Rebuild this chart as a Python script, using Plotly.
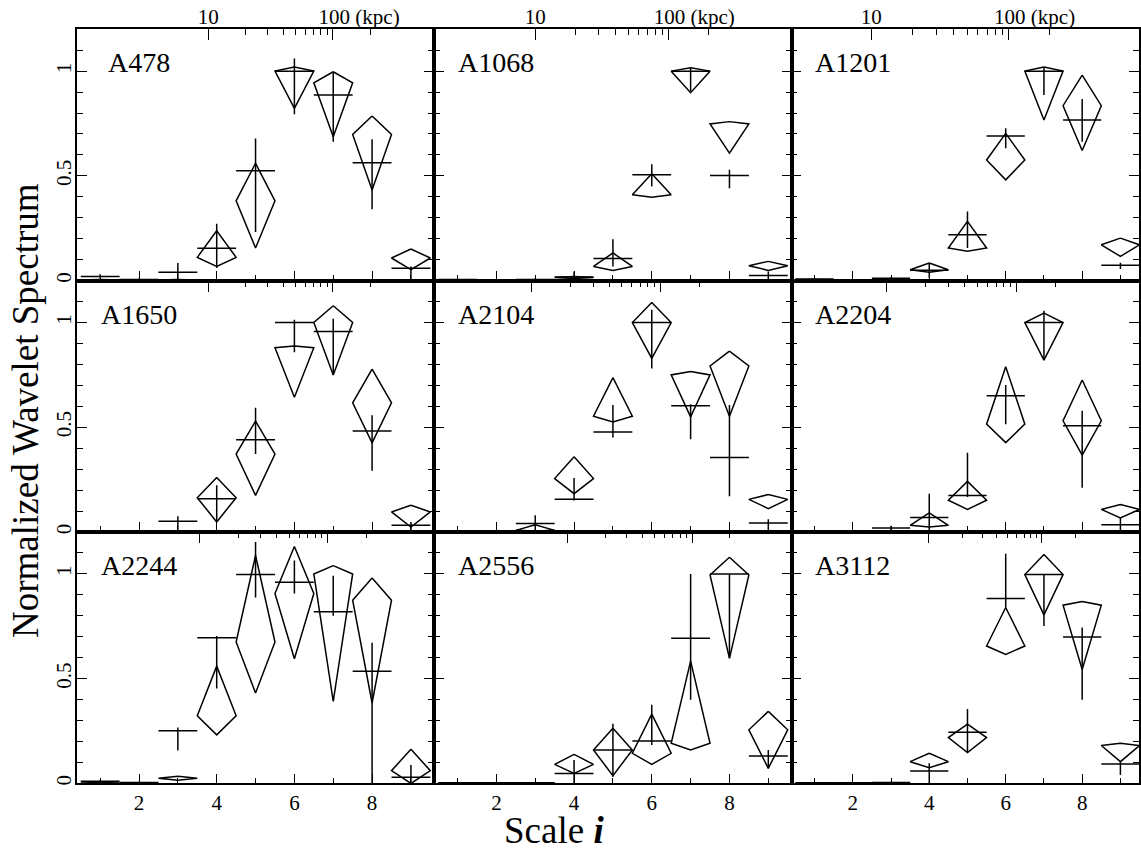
import plotly.graph_objects as go

# ---------------- data ----------------
scales = [1, 2, 3, 4, 5, 6, 7, 8, 9]
clusters = ["A478", "A1068", "A1201", "A1650", "A2104", "A2204", "A2244", "A2556", "A3112"]

# crosses: value, upper end, lower end of error bar
a478_val = [0.020, 0.005, 0.040, 0.154, 0.524, 1.000, 0.886, 0.563, 0.059]
a478_hi = [0.030, 0.010, 0.084, 0.271, 0.679, 1.060, 0.995, 0.675, 0.068]
a478_lo = [0.010, 0.000, 0.005, 0.060, 0.232, 0.794, 0.663, 0.341, 0.000]
a1068_val = [0.005, 0.003, 0.005, 0.017, 0.106, 0.505, 1.000, 0.502, 0.024]
a1068_hi = [0.008, 0.005, 0.010, 0.044, 0.198, 0.556, 1.015, 0.529, 0.044]
a1068_lo = [0.002, 0.000, 0.000, 0.000, 0.068, 0.449, 0.905, 0.441, 0.000]
a1201_val = [0.008, 0.003, 0.011, 0.049, 0.219, 0.690, 1.000, 0.767, 0.073]
a1201_hi = [0.012, 0.005, 0.016, 0.084, 0.330, 0.727, 1.020, 0.867, 0.085]
a1201_lo = [0.004, 0.000, 0.006, 0.013, 0.156, 0.632, 0.886, 0.663, 0.055]
a1650_val = [0.005, 0.003, 0.051, 0.159, 0.440, 1.000, 0.957, 0.482, 0.032]
a1650_hi = [0.008, 0.005, 0.075, 0.223, 0.593, 1.013, 1.018, 0.558, 0.048]
a1650_lo = [0.002, 0.000, 0.000, 0.048, 0.372, 0.858, 0.750, 0.292, 0.008]
a2104_val = [0.005, 0.003, 0.041, 0.156, 0.478, 1.000, 0.603, 0.356, 0.043]
a2104_hi = [0.008, 0.005, 0.080, 0.258, 0.606, 1.061, 0.610, 0.606, 0.061]
a2104_lo = [0.002, 0.000, 0.000, 0.150, 0.451, 0.781, 0.443, 0.171, 0.000]
a2204_val = [0.005, 0.003, 0.019, 0.069, 0.175, 0.651, 1.000, 0.507, 0.035]
a2204_hi = [0.008, 0.005, 0.030, 0.183, 0.378, 0.702, 1.056, 0.579, 0.067]
a2204_lo = [0.002, 0.000, 0.005, 0.000, 0.167, 0.515, 0.821, 0.212, 0.000]
a2244_val = [0.010, 0.005, 0.251, 0.696, 0.997, 0.960, 0.819, 0.536, 0.030]
a2244_hi = [0.015, 0.008, 0.267, 0.704, 1.152, 1.064, 0.992, 0.672, 0.088]
a2244_lo = [0.005, 0.002, 0.157, 0.453, 0.888, 0.907, 0.800, 0.000, 0.000]
a2556_val = [0.003, 0.003, 0.003, 0.048, 0.160, 0.203, 0.693, 1.000, 0.131]
a2556_hi = [0.005, 0.005, 0.005, 0.112, 0.285, 0.376, 1.000, 1.000, 0.160]
a2556_lo = [0.000, 0.000, 0.000, 0.000, 0.032, 0.184, 0.400, 0.600, 0.072]
a3112_val = [0.003, 0.003, 0.005, 0.059, 0.245, 0.883, 0.997, 0.699, 0.093]
a3112_hi = [0.005, 0.005, 0.008, 0.096, 0.355, 1.096, 0.997, 0.744, 0.104]
a3112_lo = [0.000, 0.000, 0.002, 0.000, 0.147, 0.840, 0.752, 0.400, 0.040]

# kites: top vertex, side vertices, bottom vertex
a478_ktop = [0.006, 0.004, 0.006, 0.238, 0.560, 1.020, 0.997, 0.786, 0.151]
a478_kmid = [0.003, 0.002, 0.003, 0.111, 0.381, 1.000, 0.944, 0.698, 0.108]
a478_kbot = [0.000, 0.000, 0.000, 0.068, 0.156, 0.822, 0.687, 0.433, 0.052]
a1068_ktop = [0.004, 0.002, 0.004, 0.020, 0.132, 0.510, 1.016, 0.759, 0.092]
a1068_kmid = [0.002, 0.001, 0.002, 0.015, 0.068, 0.410, 1.000, 0.748, 0.071]
a1068_kbot = [0.000, 0.000, 0.000, 0.010, 0.049, 0.398, 0.897, 0.608, 0.049]
a1201_ktop = [0.005, 0.002, 0.006, 0.084, 0.283, 0.703, 1.020, 0.981, 0.203]
a1201_kmid = [0.003, 0.001, 0.003, 0.052, 0.156, 0.576, 1.000, 0.835, 0.171]
a1201_kbot = [0.000, 0.000, 0.000, 0.040, 0.140, 0.481, 0.767, 0.621, 0.116]
a1650_ktop = [0.004, 0.002, 0.004, 0.260, 0.530, 0.888, 1.080, 0.778, 0.128]
a1650_kmid = [0.002, 0.001, 0.002, 0.164, 0.372, 0.880, 1.000, 0.617, 0.096]
a1650_kbot = [0.000, 0.000, 0.000, 0.048, 0.175, 0.643, 0.750, 0.426, 0.024]
a2104_ktop = [0.004, 0.002, 0.035, 0.359, 0.737, 1.096, 0.766, 0.864, 0.179]
a2104_kmid = [0.002, 0.001, 0.008, 0.255, 0.553, 1.000, 0.750, 0.793, 0.156]
a2104_kbot = [0.000, 0.000, 0.005, 0.183, 0.526, 0.829, 0.550, 0.553, 0.112]
a2204_ktop = [0.004, 0.002, 0.004, 0.091, 0.242, 0.789, 1.045, 0.726, 0.131]
a2204_kmid = [0.002, 0.001, 0.002, 0.032, 0.152, 0.515, 1.000, 0.531, 0.108]
a2204_kbot = [0.000, 0.000, 0.000, 0.024, 0.108, 0.427, 0.821, 0.367, 0.067]
a2244_ktop = [0.004, 0.002, 0.035, 0.560, 1.088, 1.131, 1.040, 0.981, 0.163]
a2244_kmid = [0.002, 0.001, 0.025, 0.323, 0.675, 0.907, 1.000, 0.875, 0.061]
a2244_kbot = [0.000, 0.000, 0.015, 0.232, 0.432, 0.595, 0.392, 0.384, 0.000]
a2556_ktop = [0.002, 0.002, 0.002, 0.139, 0.264, 0.331, 0.584, 1.080, 0.344]
a2556_kmid = [0.001, 0.001, 0.001, 0.091, 0.160, 0.144, 0.192, 0.995, 0.256]
a2556_kbot = [0.000, 0.000, 0.000, 0.048, 0.037, 0.091, 0.160, 0.597, 0.072]
a3112_ktop = [0.002, 0.002, 0.002, 0.144, 0.283, 0.840, 1.093, 0.869, 0.192]
a3112_kmid = [0.001, 0.001, 0.001, 0.104, 0.219, 0.656, 0.997, 0.851, 0.181]
a3112_kbot = [0.000, 0.000, 0.000, 0.075, 0.147, 0.616, 0.805, 0.544, 0.104]

cross_val = [a478_val, a1068_val, a1201_val, a1650_val, a2104_val, a2204_val, a2244_val, a2556_val, a3112_val]
cross_hi = [a478_hi, a1068_hi, a1201_hi, a1650_hi, a2104_hi, a2204_hi, a2244_hi, a2556_hi, a3112_hi]
cross_lo = [a478_lo, a1068_lo, a1201_lo, a1650_lo, a2104_lo, a2204_lo, a2244_lo, a2556_lo, a3112_lo]
kite_top = [a478_ktop, a1068_ktop, a1201_ktop, a1650_ktop, a2104_ktop, a2204_ktop, a2244_ktop, a2556_ktop, a3112_ktop]
kite_mid = [a478_kmid, a1068_kmid, a1201_kmid, a1650_kmid, a2104_kmid, a2204_kmid, a2244_kmid, a2556_kmid, a3112_kmid]
kite_bot = [a478_kbot, a1068_kbot, a1201_kbot, a1650_kbot, a2104_kbot, a2204_kbot, a2244_kbot, a2556_kbot, a3112_kbot]

# physical-size axis: scale i where 10 kpc and 100 kpc fall, per cluster
kpc10_scale = [3.78, 3.00, 2.48, 3.78, 2.91, 2.89, 3.56, 3.83, 3.98]
kpc100_scale = [6.99, 6.42, 6.07, 6.99, 6.22, 6.28, 6.86, 7.04, 6.94]
kpc_major = [10, 100]
kpc_minor = [20, 30, 40, 50, 60, 70, 80, 90, 200]

y_major = [0, 0.5, 1]
y_major_text = ["0", "0.5", "1"]
y_minor = [0.1, 0.2, 0.3, 0.4, 0.6, 0.7, 0.8, 0.9, 1.1]
x_major = [2, 4, 6, 8]
x_minor = [1, 3, 5, 7, 9]

# ---------------- layout geometry ----------------
W, H = 1141, 853
col_px = [(77, 435), (435, 793), (793, 1141)]
row_px = [(29.3, 281.3), (281.3, 533.3), (533.3, 785.3)]
x_ranges = [[0.4, 9.6], [0.4, 9.6], [0.4, 0.4 + 348 / 38.3]]
FONT = "Liberation Serif"
LW = 1.6

fig = go.Figure()
annotations = []

NB = "\u00a0"
axes_layout = {}
for k, name in enumerate(clusters):
    r, c = divmod(k, 3)
    xn = "" if k == 0 else str(k + 1)
    tn = str(k + 10)
    xd = [col_px[c][0] / W, col_px[c][1] / W]
    yd = [1 - row_px[r][1] / H, 1 - row_px[r][0] / H]

    # crosses
    cx, cy = [], []
    for i, v, hi, lo in zip(scales, cross_val[k], cross_hi[k], cross_lo[k]):
        cx += [i - 0.5, i + 0.5, None, i, i, None]
        cy += [v, v, None, lo, hi, None]
    fig.add_trace(go.Scatter(x=cx, y=cy, mode="lines", xaxis="x" + xn, yaxis="y" + xn,
                             line=dict(color="black", width=1.5), hoverinfo="skip"))
    # kites
    kx, ky = [], []
    for i, t, m, b in zip(scales, kite_top[k], kite_mid[k], kite_bot[k]):
        kx += [i, i + 0.5, i, i - 0.5, i, None]
        ky += [t, m, b, m, t, None]
    fig.add_trace(go.Scatter(x=kx, y=ky, mode="lines", xaxis="x" + xn, yaxis="y" + xn,
                             line=dict(color="black", width=1.5), hoverinfo="skip"))
    # placeholder on the kpc axis so it is drawn
    fig.add_trace(go.Scatter(x=[], y=[], mode="markers", xaxis="x" + tn, yaxis="y" + xn,
                             hoverinfo="skip"))

    axes_layout["xaxis" + xn] = dict(
        domain=xd, anchor="y" + xn, range=x_ranges[c], showgrid=False, zeroline=False,
        showline=True, linecolor="black", linewidth=LW, mirror=True,
        ticks="inside", ticklen=10, tickwidth=1.3, tickcolor="black",
        tickmode="array", tickvals=x_major, ticktext=[str(v) for v in x_major],
        showticklabels=(r == 2), tickfont=dict(size=21, family=FONT, color="black"),
        minor=dict(tickmode="array", tickvals=x_minor, ticks="inside", ticklen=6,
                   tickwidth=1.3, tickcolor="black", showgrid=False))
    axes_layout["yaxis" + xn] = dict(
        domain=yd, anchor="x" + xn, range=[0, 1.2], showgrid=False, zeroline=False,
        showline=True, linecolor="black", linewidth=LW, mirror="ticks",
        ticks="inside", ticklen=10, tickwidth=1.3, tickcolor="black",
        tickmode="array", tickvals=y_major, ticktext=y_major_text, tickangle=-90,
        showticklabels=(c == 0), tickfont=dict(size=21, family=FONT, color="black"),
        ticklabelstandoff=-4,
        minor=dict(tickmode="array", tickvals=y_minor, ticks="inside", ticklen=6,
                   tickwidth=1.3, tickcolor="black", showgrid=False))
    i10, i100 = kpc10_scale[k], kpc100_scale[k]
    dec = i100 - i10
    lr = [1 + (x_ranges[c][0] - i10) / dec, 1 + (x_ranges[c][1] - i10) / dec]
    axes_layout["xaxis" + tn] = dict(
        type="log", overlaying="x" + xn, anchor="y" + xn, side="top", range=lr,
        showgrid=False, zeroline=False, showline=False,
        ticks="inside", ticklen=11, tickwidth=1.3, tickcolor="black",
        tickmode="array", tickvals=kpc_major,
        ticktext=["10", NB * 10 + "100 (kpc)"],
        showticklabels=(r == 0), tickfont=dict(size=21, family=FONT, color="black"),
        minor=dict(tickmode="array", tickvals=kpc_minor, ticks="inside", ticklen=6,
                   tickwidth=1.3, tickcolor="black", showgrid=False))

    annotations.append(dict(text=name, x=2.0, y=1.04, xref="x" + xn, yref="y" + xn,
                            xanchor="center", yanchor="middle", showarrow=False,
                            font=dict(size=28, family=FONT, color="black")))

annotations.append(dict(text="Normalized Wavelet Spectrum", x=25 / W, y=1 - 411 / H,
                        xref="paper", yref="paper", textangle=-90, showarrow=False,
                        xanchor="center", yanchor="middle",
                        font=dict(size=37, family=FONT, color="black")))
annotations.append(dict(text="Scale <b><i>i</i></b>", x=555 / W, y=1 - 832 / H,
                        xref="paper", yref="paper", showarrow=False,
                        xanchor="center", yanchor="middle",
                        font=dict(size=37, family=FONT, color="black")))

fig.update_layout(width=W, height=H, margin=dict(l=0, r=0, t=0, b=0),
                  paper_bgcolor="white", plot_bgcolor="white", showlegend=False,
                  font=dict(family=FONT, color="black", size=21),
                  annotations=annotations, **axes_layout)
fig.write_html("out.html")
